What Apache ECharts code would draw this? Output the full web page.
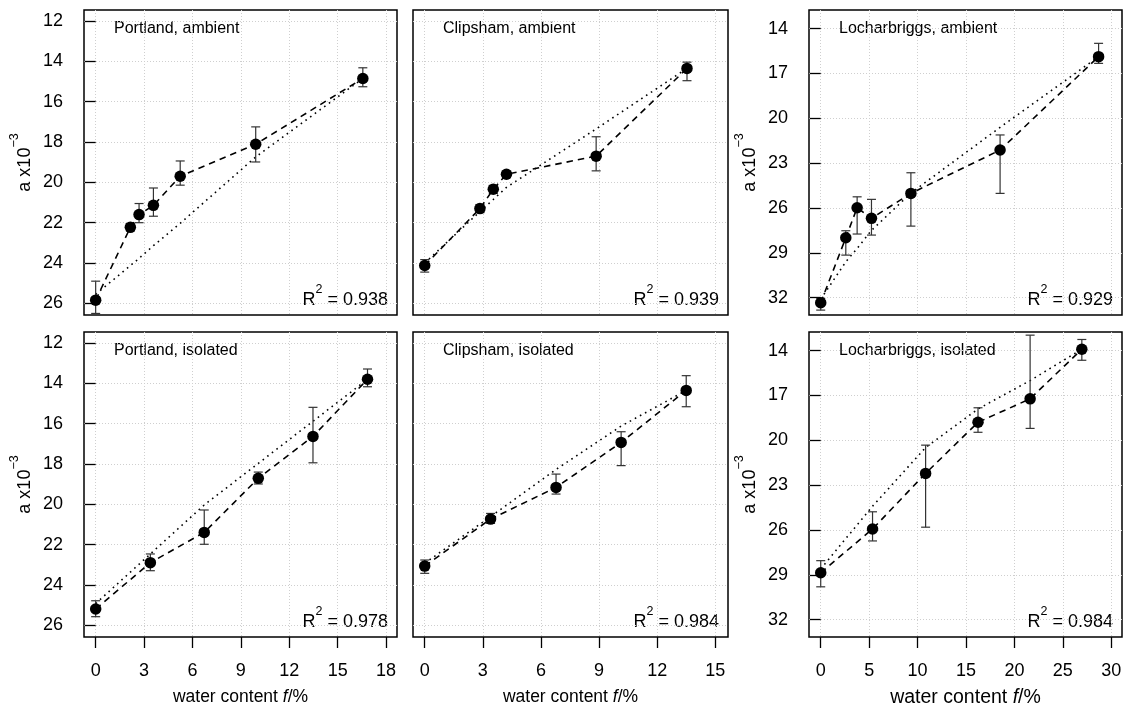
<!DOCTYPE html>
<html><head><meta charset="utf-8">
<script src="https://cdn.jsdelivr.net/npm/echarts@6/dist/echarts.min.js"></script>
<style>html,body{margin:0;padding:0;background:#fff}#c{width:1127px;height:709px}</style>
</head><body><div id="c"></div>
<script>
// ---- data ----
const portlandAmbientX   = [0, 2.15, 2.69, 3.58, 5.24, 9.92, 16.56];
const portlandAmbientA   = [25.84, 22.23, 21.60, 21.14, 19.70, 18.11, 14.85];
const portlandAmbientLo  = [24.90, 22.05, 21.05, 20.28, 18.94, 17.25, 14.32];
const portlandAmbientHi  = [26.50, 22.40, 22.00, 21.68, 20.14, 18.99, 15.26];
const portlandAmbientFit = [25.55, 24.13, 23.77, 23.14, 22.03, 18.74, 14.85];

const clipshamAmbientX   = [0, 2.85, 3.54, 4.22, 8.85, 13.54];
const clipshamAmbientA   = [24.12, 21.30, 20.34, 19.60, 18.70, 14.35];
const clipshamAmbientLo  = [23.83, 21.10, 20.15, 19.45, 17.74, 14.04];
const clipshamAmbientHi  = [24.45, 21.50, 20.55, 19.75, 19.43, 14.96];
const clipshamAmbientFit = [24.00, 21.45, 20.85, 20.25, 17.35, 14.35];

const locharbriggsAmbientX   = [0, 2.59, 3.76, 5.24, 9.31, 18.52, 28.69];
const locharbriggsAmbientA   = [32.34, 27.99, 25.98, 26.69, 25.02, 22.12, 15.87];
const locharbriggsAmbientLo  = [32.05, 27.52, 25.25, 25.42, 23.64, 21.11, 14.98];
const locharbriggsAmbientHi  = [32.83, 29.15, 27.74, 27.81, 27.21, 25.02, 16.32];
const locharbriggsAmbientFit = [32.10, 29.60, 28.70, 27.50, 25.00, 20.60, 15.87];

const portlandIsolatedX   = [0, 3.39, 6.73, 10.08, 13.47, 16.85];
const portlandIsolatedA   = [25.19, 22.89, 21.39, 18.71, 16.63, 13.80];
const portlandIsolatedLo  = [24.78, 22.46, 20.28, 18.40, 15.19, 13.29];
const portlandIsolatedHi  = [25.57, 23.29, 21.98, 18.99, 17.94, 14.17];
const portlandIsolatedFit = [24.92, 22.46, 20.03, 17.97, 15.88, 13.80];

const clipshamIsolatedX   = [0, 3.40, 6.78, 10.14, 13.50];
const clipshamIsolatedA   = [23.06, 20.73, 19.16, 16.93, 14.35];
const clipshamIsolatedLo  = [22.76, 20.45, 18.50, 16.40, 13.62];
const clipshamIsolatedHi  = [23.42, 20.94, 19.49, 18.08, 15.16];
const clipshamIsolatedFit = [22.92, 20.61, 18.27, 16.12, 14.35];

const locharbriggsIsolatedX   = [0, 5.35, 10.83, 16.24, 21.62, 26.96];
const locharbriggsIsolatedA   = [28.86, 25.93, 22.21, 18.79, 17.22, 13.90];
const locharbriggsIsolatedLo  = [28.05, 24.78, 20.32, 17.82, 12.96, 13.25];
const locharbriggsIsolatedHi  = [29.80, 26.73, 25.81, 19.46, 19.20, 14.64];
const locharbriggsIsolatedFit = [28.60, 24.41, 20.48, 17.90, 16.00, 13.90];

const panelTitles = ['Portland, ambient', 'Clipsham, ambient', 'Locharbriggs, ambient',
                     'Portland, isolated', 'Clipsham, isolated', 'Locharbriggs, isolated'];
const rSquared = ['0.938', '0.939', '0.929', '0.978', '0.984', '0.984'];

const xTicksPortland = [0, 3, 6, 9, 12, 15, 18];
const xTicksClipsham = [0, 3, 6, 9, 12, 15];
const xTicksLocharbriggs = [0, 5, 10, 15, 20, 25, 30];
const yTicksPortland = [12, 14, 16, 18, 20, 22, 24, 26];
const yTicksLocharbriggs = [14, 17, 20, 23, 26, 29, 32];

// ---- layout ----
const FONT = '"Liberation Sans", Arial, Helvetica, sans-serif';
const colLeft = [84, 413, 809];
const colWidth = [313, 315, 313];
const rowTop = [10, 332];
const rowHeight = 305;
const xRange = [[-0.723, 18.678], [-0.605, 15.657], [-1.21, 31.107]];
const yRange = [[11.455, 26.577], [11.455, 26.577], [12.749, 33.158]];
const xTicks = [xTicksPortland, xTicksClipsham, xTicksLocharbriggs];
const yTicks = [yTicksPortland, yTicksPortland, yTicksLocharbriggs];

const panels = [
  [portlandAmbientX, portlandAmbientA, portlandAmbientLo, portlandAmbientHi, portlandAmbientFit],
  [clipshamAmbientX, clipshamAmbientA, clipshamAmbientLo, clipshamAmbientHi, clipshamAmbientFit],
  [locharbriggsAmbientX, locharbriggsAmbientA, locharbriggsAmbientLo, locharbriggsAmbientHi, locharbriggsAmbientFit],
  [portlandIsolatedX, portlandIsolatedA, portlandIsolatedLo, portlandIsolatedHi, portlandIsolatedFit],
  [clipshamIsolatedX, clipshamIsolatedA, clipshamIsolatedLo, clipshamIsolatedHi, clipshamIsolatedFit],
  [locharbriggsIsolatedX, locharbriggsIsolatedA, locharbriggsIsolatedLo, locharbriggsIsolatedHi, locharbriggsIsolatedFit]
];

const grids = [], xAxes = [], yAxes = [], series = [], graphics = [];
const splitStyle = { color: '#cfcfcf', type: [1, 2], width: 1 };

panels.forEach((p, i) => {
  const col = i % 3, row = Math.floor(i / 3);
  const bottom = row === 1;
  const left = col !== 1;
  grids.push({
    left: colLeft[col], top: rowTop[row], width: colWidth[col], height: rowHeight,
    show: true, borderColor: '#000', borderWidth: 1.5, backgroundColor: 'transparent'
  });
  xAxes.push({
    gridIndex: i, type: 'value', min: xRange[col][0], max: xRange[col][1],
    axisLine: { show: false },
    axisTick: { show: bottom, length: 11, lineStyle: { color: '#000', width: 1.3 }, customValues: xTicks[col] },
    axisLabel: { show: bottom, customValues: xTicks[col], fontSize: 18, color: '#000', fontFamily: FONT, margin: 25 },
    splitLine: { show: true, lineStyle: splitStyle },
    name: bottom ? '{n|water content }{i|f}{n|/%}' : '',
    nameLocation: 'middle', nameGap: 51,
    nameTextStyle: {
      rich: {
        n: { fontSize: col === 2 ? 19.5 : 17.5, fontFamily: FONT, color: '#000' },
        i: { fontSize: col === 2 ? 19.5 : 17.5, fontFamily: FONT, color: '#000', fontStyle: 'italic' }
      }
    }
  });
  yAxes.push({
    gridIndex: i, type: 'value', inverse: true, min: yRange[col][0], max: yRange[col][1],
    axisLine: { show: false },
    axisTick: { show: left, length: 11, lineStyle: { color: '#000', width: 1.3 }, customValues: yTicks[col] },
    axisLabel: { show: left, customValues: yTicks[col], fontSize: 18, color: '#000', fontFamily: FONT, margin: 21 },
    splitLine: { show: true, lineStyle: splitStyle },
    name: left ? '{a|a x10}{s|\u22123}' : '',
    nameLocation: 'middle', nameGap: 50, nameRotate: 90,
    nameTextStyle: {
      rich: {
        a: { fontSize: 18, fontFamily: FONT, color: '#000', lineHeight: 26, verticalAlign: 'bottom' },
        s: { fontSize: 12.5, fontFamily: FONT, color: '#000', verticalAlign: 'top' }
      }
    }
  });
  const [xs, as, los, his, fits] = p;
  series.push({
    type: 'line', xAxisIndex: i, yAxisIndex: i, silent: true, z: 2,
    data: xs.map((x, k) => [x, fits[k]]),
    symbol: 'none', showSymbol: false,
    lineStyle: { color: '#000', width: 1.6, type: [1.6, 4.2] }
  });
  series.push({
    type: 'custom', xAxisIndex: i, yAxisIndex: i, silent: true, z: 3,
    data: xs.map((x, k) => [x, los[k], his[k]]),
    encode: { x: 0, y: [1, 2] },
    renderItem: function (params, api) {
      const p1 = api.coord([api.value(0), api.value(1)]);
      const p2 = api.coord([api.value(0), api.value(2)]);
      const w = 4.5, st = { stroke: '#333', lineWidth: 1.2 };
      return { type: 'group', children: [
        { type: 'line', shape: { x1: p1[0], y1: p1[1], x2: p2[0], y2: p2[1] }, style: st },
        { type: 'line', shape: { x1: p1[0] - w, y1: p1[1], x2: p1[0] + w, y2: p1[1] }, style: st },
        { type: 'line', shape: { x1: p2[0] - w, y1: p2[1], x2: p2[0] + w, y2: p2[1] }, style: st }
      ]};
    }
  });
  series.push({
    type: 'line', xAxisIndex: i, yAxisIndex: i, silent: true, z: 4,
    data: xs.map((x, k) => [x, as[k]]),
    symbol: 'circle', symbolSize: 11.5, itemStyle: { color: '#000' },
    lineStyle: { color: '#000', width: 1.6, type: [6.5, 5] }
  });
  graphics.push({
    type: 'text', left: colLeft[col] + 30, top: rowTop[row] + 11,
    style: { text: panelTitles[i], font: '16px ' + FONT, fill: '#000' }
  });
  graphics.push({
    type: 'text', x: colLeft[col] + colWidth[col] - 9, y: rowTop[row] + 286,
    style: {
      text: '{n|R}{s|2}{n| = ' + rSquared[i] + '}',
      align: 'right', verticalAlign: 'middle',
      rich: {
        n: { fontSize: 18, fontFamily: FONT, fill: '#000', lineHeight: 26, verticalAlign: 'bottom' },
        s: { fontSize: 12.5, fontFamily: FONT, fill: '#000', verticalAlign: 'top' }
      }
    }
  });
});

const chart = echarts.init(document.getElementById('c'), null, { renderer: 'canvas' });
chart.setOption({
  animation: false,
  backgroundColor: '#fff',
  grid: grids, xAxis: xAxes, yAxis: yAxes, series: series, graphic: graphics
});
</script></body></html>
